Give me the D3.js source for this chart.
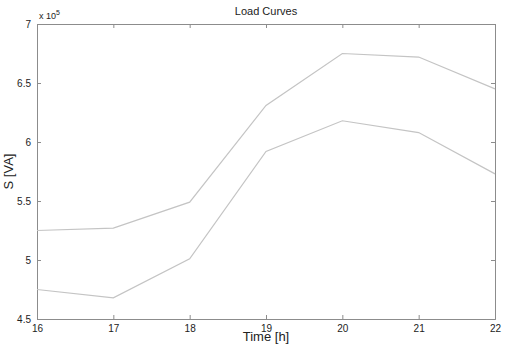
<!DOCTYPE html>
<html>
<head>
<meta charset="utf-8">
<script src="https://cdn.jsdelivr.net/npm/d3@7"></script>
<style>
    body { margin: 0; background: #fff; }
    text { font-family: "Liberation Sans", Arial, sans-serif; fill: #222; }
    .axis path, .axis line { stroke: #8c8c8c; }
    .axis text { font-size: 10px; fill: #222; }
</style>
</head>
<body>
<svg id="chart" width="507" height="348"></svg>
<script>
// hours on the x axis
const hours = [16, 17, 18, 19, 20, 21, 22];
// apparent power, in units of 1e5 VA
const upperCurve = [5.25, 5.27, 5.49, 6.31, 6.75, 6.72, 6.45];
const lowerCurve = [4.75, 4.68, 5.01, 5.92, 6.18, 6.08, 5.73];
const yTicks = [4.5, 5, 5.5, 6, 6.5, 7];
const xTicks = [16, 17, 18, 19, 20, 21, 22];

const margins = {left: 37, right: 12, top: 24, bottom: 29};
const svg = d3.select("#chart");
const width = 507, height = 348;

const x = d3.scaleLinear().domain([16, 22]).range([margins.left, width - margins.right]);
const y = d3.scaleLinear().domain([4.5, 7]).range([height - margins.bottom, margins.top]);

// box: inward ticks on all four sides like matlab
svg.append("g")
    .attr("class", "axis")
    .attr("transform", `translate(0,${height - margins.bottom})`)
    .call(d3.axisBottom(x).tickValues(xTicks).tickSize(-4).tickPadding(8).tickFormat(d3.format("d")))
    .call(g => g.selectAll("text").attr("dy", "0.5em"));

svg.append("g")
    .attr("class", "axis")
    .attr("transform", `translate(0,${margins.top})`)
    .call(d3.axisTop(x).tickValues(xTicks).tickSize(-4).tickFormat(""));

svg.append("g")
    .attr("class", "axis")
    .attr("transform", `translate(${margins.left},0)`)
    .call(d3.axisLeft(y).tickValues(yTicks).tickSize(-4).tickPadding(6).tickFormat(d => d3.format("")(d)));

svg.append("g")
    .attr("class", "axis")
    .attr("transform", `translate(${width - margins.right},0)`)
    .call(d3.axisRight(y).tickValues(yTicks).tickSize(-4).tickFormat(""));

svg.selectAll(".axis .domain").attr("stroke", "#8c8c8c");

const line = d3.line()
    .x((d, i) => x(hours[i]))
    .y(d => y(d));

[upperCurve, lowerCurve].forEach(series => {
    svg.append("path")
        .datum(series)
        .attr("fill", "none")
        .attr("stroke", "#c4c4c4")
        .attr("stroke-width", 1.2)
        .attr("d", line);
});

// exponent label
const expo = svg.append("text")
    .attr("x", margins.left + 2)
    .attr("y", 19)
    .style("font-size", "9px");
expo.append("tspan").text("x 10");
expo.append("tspan").attr("dy", -4).style("font-size", "7px").text("5");

svg.append("text")
    .attr("x", (margins.left + width - margins.right) / 2)
    .attr("y", 15)
    .attr("text-anchor", "middle")
    .style("font-size", "11px")
    .text("Load Curves");

svg.append("text")
    .attr("x", (margins.left + width - margins.right) / 2)
    .attr("y", 341)
    .attr("text-anchor", "middle")
    .style("font-size", "13px")
    .text("Time [h]");

svg.append("text")
    .attr("transform", `translate(13,${(margins.top + height - margins.bottom) / 2}) rotate(-90)`)
    .attr("text-anchor", "middle")
    .style("font-size", "13px")
    .text("S [VA]");
</script>
</body>
</html>
